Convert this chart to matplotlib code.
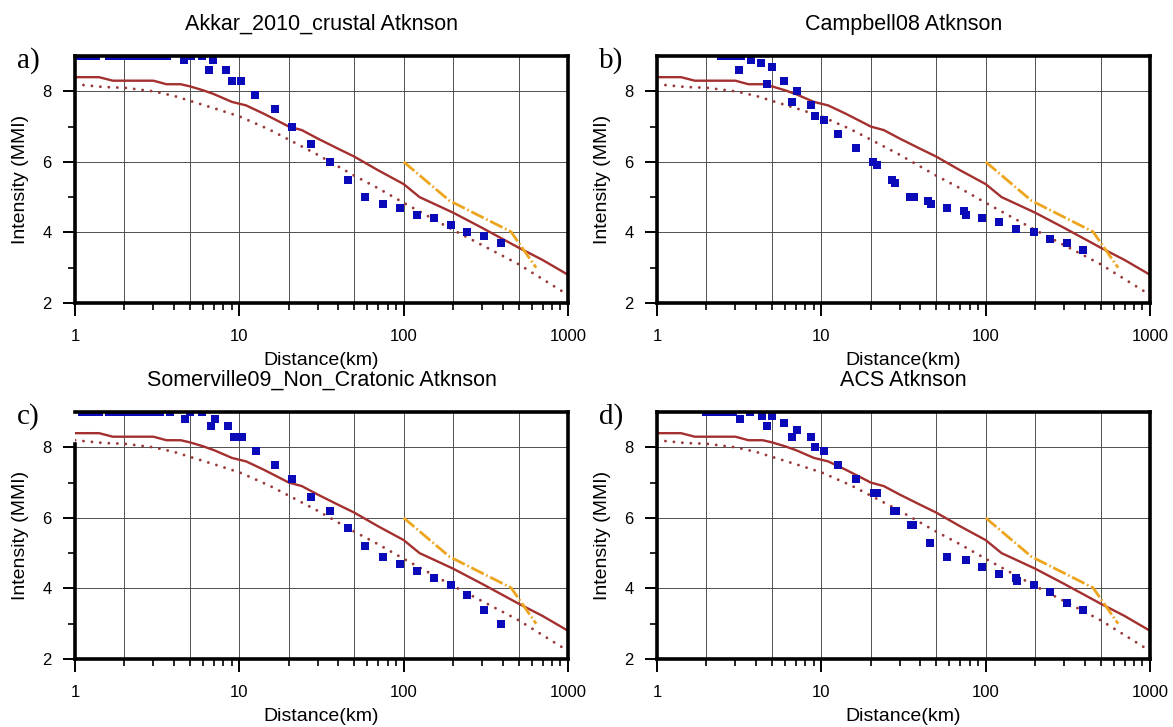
import matplotlib
matplotlib.use("Agg")
import matplotlib.pyplot as plt
from matplotlib.ticker import FixedLocator, NullFormatter, FixedFormatter

# ---------------- data ----------------
titles = ["Akkar_2010_crustal Atknson", "Campbell08 Atknson",
          "Somerville09_Non_Cratonic Atknson", "ACS Atknson"]
panel_tags = ["a)", "b)", "c)", "d)"]

# common model curves (same in all panels)
solid_dist = [1, 1.4, 1.7, 3.0, 3.6, 4.4, 5, 6, 7, 9, 11, 14, 17, 20, 24, 30, 40,
              50, 70, 100, 125, 150, 200, 300, 500, 700, 1000]
solid_mmi = [8.4, 8.4, 8.3, 8.3, 8.2, 8.2, 8.14, 8.03, 7.92, 7.7, 7.6, 7.37, 7.17,
             7.0, 6.9, 6.66, 6.37, 6.15, 5.76, 5.37, 5.0, 4.83, 4.56, 4.13, 3.57,
             3.22, 2.8]

dot_dist = [1, 1.5, 2, 3, 4, 5, 7, 10, 15, 20, 30, 50, 70, 100, 200, 500, 1000]
dot_mmi = [8.2, 8.12, 8.1, 8.0, 7.87, 7.73, 7.52, 7.29, 6.93, 6.63, 6.2, 5.61,
           5.25, 4.84, 4.07, 3.1, 2.23]

orange_dist = [100, 190, 450, 640]
orange_mmi = [6.0, 4.9, 4.02, 3.0]

# observed intensities (blue squares), one pair of lists per panel
a_dist = [1.0, 1.1, 1.2, 1.35, 1.6, 1.75, 1.9, 2.1, 2.3, 2.5, 2.75, 3.0, 3.3, 3.65,
          4.6, 5.1, 5.9, 6.5, 6.95, 8.3, 9.0, 10.2, 12.4, 16.4, 21, 27.2, 35.5,
          45.6, 58.3, 75, 95, 120, 152, 193, 244, 310, 390]
a_mmi = [9, 9, 9, 9, 9, 9, 9, 9, 9, 9, 9, 9, 9, 9,
         8.9, 9, 9, 8.6, 8.9, 8.6, 8.3, 8.3, 7.9, 7.5, 7.0, 6.5, 6.0,
         5.5, 5.0, 4.8, 4.7, 4.5, 4.4, 4.2, 4.0, 3.9, 3.7]

b_dist = [2.45, 2.7, 2.95, 3.15, 3.24, 3.73, 4.32, 4.67, 5.0, 5.94, 6.67, 7.1, 8.6,
          9.2, 10.4, 12.6, 16.3, 20.6, 21.8, 26.9, 28.1, 34.8, 36.6, 44.8, 46.6,
          58, 74, 76, 95.5, 121, 154, 197, 246, 312, 392]
b_mmi = [9, 9, 9, 8.6, 9, 8.9, 8.8, 8.2, 8.7, 8.3, 7.7, 8.0, 7.6,
         7.3, 7.2, 6.8, 6.4, 6.0, 5.9, 5.5, 5.4, 5.0, 5.0, 4.9, 4.8,
         4.7, 4.6, 4.5, 4.4, 4.3, 4.1, 4.0, 3.8, 3.7, 3.5]

c_dist = [1.1, 1.2, 1.3, 1.4, 1.62, 1.8, 2.0, 2.2, 2.45, 2.7, 3.0, 3.3, 3.76,
          4.69, 5.0, 5.94, 6.7, 7.1, 8.5, 9.3, 10.4, 12.6, 16.4, 21, 27.2, 35.5,
          45.6, 58, 75, 95, 120, 152, 193, 244, 310, 390]
c_mmi = [9, 9, 9, 9, 9, 9, 9, 9, 9, 9, 9, 9, 9,
         8.8, 9, 9, 8.6, 8.8, 8.6, 8.3, 8.3, 7.9, 7.5, 7.1, 6.6, 6.2,
         5.7, 5.2, 4.9, 4.7, 4.5, 4.3, 4.1, 3.8, 3.4, 3.0]

d_dist = [2.0, 2.2, 2.4, 2.65, 2.9, 3.21, 3.69, 4.33, 4.68, 5.0, 5.94, 6.66, 7.1,
          8.6, 9.2, 10.4, 12.6, 16.3, 21.0, 21.8, 27.5, 28.5, 35, 36, 45.7, 58,
          76, 95.5, 121, 152, 156, 197, 246, 312, 392]
d_mmi = [9, 9, 9, 9, 9, 8.8, 9, 8.9, 8.6, 8.9, 8.7, 8.3, 8.5,
         8.3, 8.0, 7.9, 7.5, 7.1, 6.7, 6.7, 6.2, 6.2, 5.8, 5.8, 5.3, 4.9,
         4.8, 4.6, 4.4, 4.3, 4.2, 4.1, 3.9, 3.6, 3.4]

obs = [(a_dist, a_mmi), (b_dist, b_mmi), (c_dist, c_mmi), (d_dist, d_mmi)]

x_major = [1, 10, 100, 1000]
x_major_labels = ["1", "10", "100", "1000"]
x_minor = [2, 3, 4, 5, 6, 7, 8, 9, 20, 30, 40, 50, 60, 70, 80, 90,
           200, 300, 400, 500, 600, 700, 800, 900]
x_grid = [2, 5, 10, 20, 50, 100, 200, 500]
y_major = [2, 4, 6, 8]
y_minor = [3, 5, 7]

# ---------------- style ----------------
plt.rcParams['font.family'] = ['Liberation Sans', 'DejaVu Sans']
W, H = 1173, 727
fig = plt.figure(figsize=(W / 100, H / 100), dpi=100)

left_px = [75, 657, 75, 657]
top_px = [56, 56, 412, 412]
aw, ah = 493, 247

SOLID_C = '#a3302f'
DOT_C = '#9a3a3a'
BLUE = '#0a0ab8'
ORANGE = '#eea51e'

for i in range(4):
    ax = fig.add_axes([left_px[i] / W, 1 - (top_px[i] + ah) / H, aw / W, ah / H])
    ax.set_xscale('log')
    ax.set_xlim(1, 1000)
    ax.set_ylim(2, 9)

    for g in x_grid:
        ax.axvline(g, color='#505050', lw=0.7, zorder=1)
    for g in y_major[1:]:
        ax.axhline(g, color='#505050', lw=0.7, zorder=1)

    ax.plot(dot_dist, dot_mmi, color=DOT_C, lw=2.1, linestyle=(0, (0.01, 2.9)),
            dash_capstyle='round', zorder=3)
    ax.plot(solid_dist, solid_mmi, color=SOLID_C, lw=1.7, zorder=3)
    ax.plot(orange_dist, orange_mmi, color=ORANGE, lw=2.0,
            linestyle=(0, (5.0, 1.0, 0.6, 1.0)), zorder=4)
    dx, dy = obs[i]
    ax.plot(dx, dy, linestyle='none', marker='s', markersize=6.2,
            color=BLUE, markeredgewidth=0, zorder=5)

    ax.xaxis.set_major_locator(FixedLocator(x_major))
    ax.xaxis.set_major_formatter(FixedFormatter(x_major_labels))
    ax.xaxis.set_minor_locator(FixedLocator(x_minor))
    ax.xaxis.set_minor_formatter(NullFormatter())
    ax.yaxis.set_major_locator(FixedLocator(y_major))
    ax.yaxis.set_minor_locator(FixedLocator(y_minor))
    ax.yaxis.set_minor_formatter(NullFormatter())

    ax.tick_params(axis='both', which='major', direction='out', length=9,
                   width=1.4, labelsize=12, color='black')
    ax.tick_params(axis='both', which='minor', direction='out', length=5,
                   width=1.2, color='black')
    ax.tick_params(axis='x', which='major', pad=10)
    ax.tick_params(axis='y', which='major', pad=8)

    for s in ax.spines.values():
        s.set_linewidth(2.6)
        s.set_zorder(6)
    if i == 2:
        ax.spines['left'].set_bounds(2, 8.1)

    ax.set_title(titles[i], fontsize=15.5, pad=19)
    ax.set_xlabel("Distance(km)", fontsize=14)
    ax.set_ylabel("Intensity (MMI)", fontsize=14)
    ax.xaxis.set_label_coords(0.5, -0.2)
    ax.yaxis.set_label_coords(-0.094, 0.5)

    fig.text((left_px[i] - 58) / W, 1 - (top_px[i] + 5) / H, panel_tags[i],
             family=['Liberation Serif', 'DejaVu Serif'], fontsize=21,
             ha='left', va='center')

fig.savefig("out.png", dpi=100)
